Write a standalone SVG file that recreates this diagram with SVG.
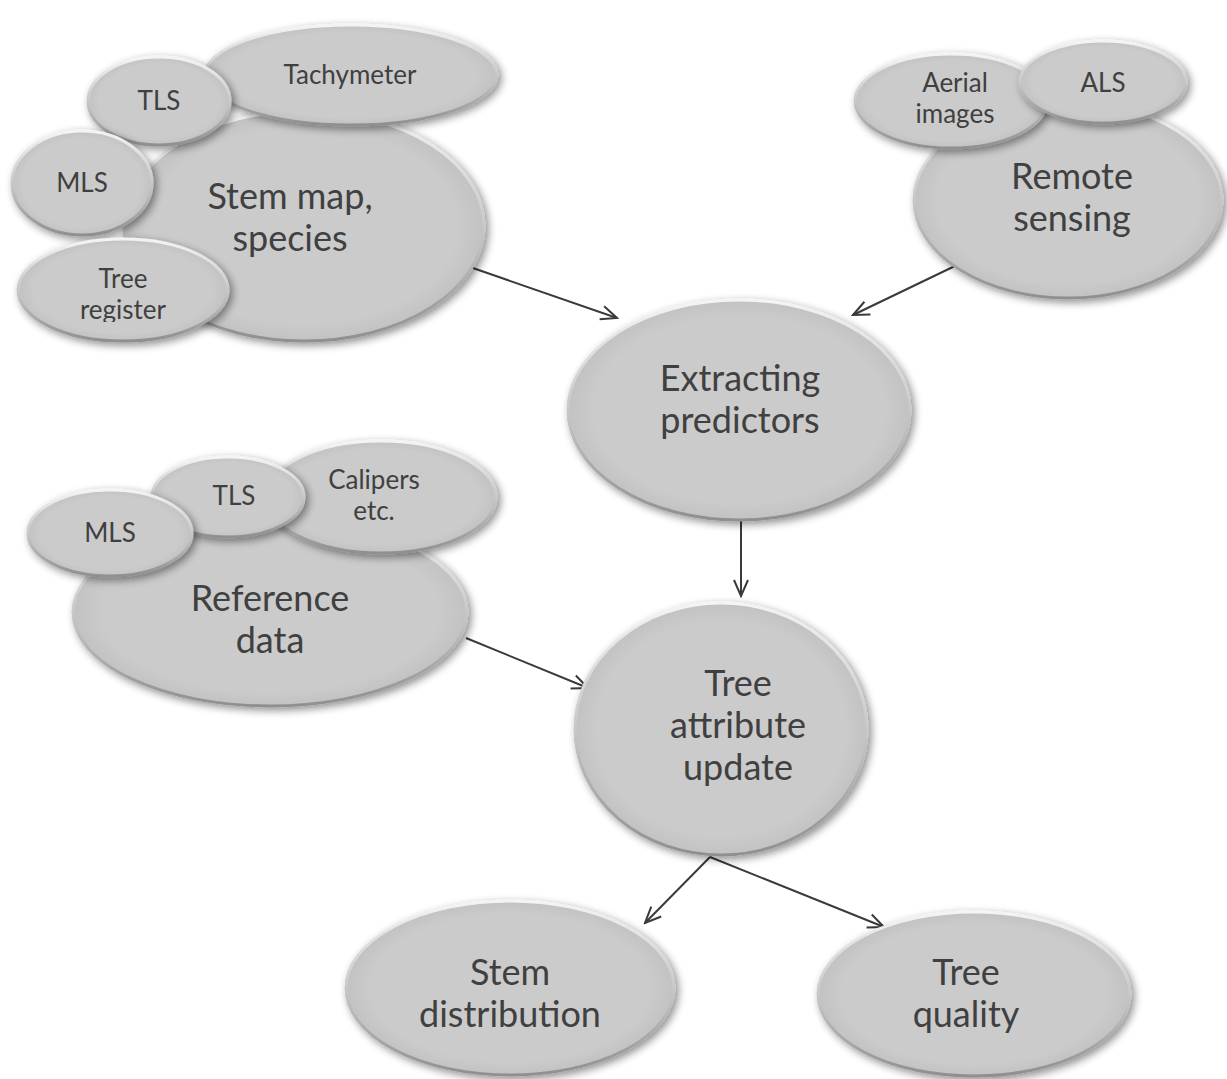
<svg xmlns="http://www.w3.org/2000/svg" width="1227" height="1079" viewBox="0 0 1227 1079">
<defs>
<radialGradient id="fillG" cx="0.5" cy="0.5" r="0.5">
<stop offset="0.85" stop-color="#cbcbcb"/>
<stop offset="1" stop-color="#c2c2c2"/>
</radialGradient>
<linearGradient id="rimG" x1="0" y1="0" x2="0" y2="1">
<stop offset="0" stop-color="#f4f4f4"/>
<stop offset="0.5" stop-color="#c8c8c8"/>
<stop offset="1" stop-color="#8f8f8f"/>
</linearGradient>
<filter id="sh" x="-20%" y="-20%" width="140%" height="140%">
<feGaussianBlur in="SourceAlpha" stdDeviation="4"/>
<feOffset dx="3" dy="3" result="b"/>
<feComponentTransfer><feFuncA type="linear" slope="0.45"/></feComponentTransfer>
<feMerge><feMergeNode/><feMergeNode in="SourceGraphic"/></feMerge>
</filter>
<marker id="arr" viewBox="0 0 20 20" refX="18" refY="10" markerWidth="20" markerHeight="20" markerUnits="userSpaceOnUse" orient="auto">
<path d="M2,3 L18,10 L2,17" fill="none" stroke="#3a3a3a" stroke-width="2"/>
</marker>
<clipPath id="trClip"><rect x="0" y="240" width="240" height="82"/></clipPath>
</defs>
<style>
.n ellipse{fill:url(#fillG);stroke:url(#rimG);stroke-width:3;filter:url(#sh)}
text{font-family:Lato,"Open Sans","Liberation Sans",sans-serif;fill:#404040;text-anchor:middle}
.s{font-size:26px}
.b{font-size:36px}
.e{stroke:#3a3a3a;stroke-width:2;fill:none;marker-end:url(#arr)}
</style>
<rect width="1227" height="1079" fill="#ffffff"/>

<g id="connectors">
<line class="e" x1="470" y1="267" x2="617" y2="318"/>
<line class="e" x1="957" y1="265" x2="853" y2="315"/>
<line class="e" x1="741" y1="521" x2="741" y2="596"/>
<line class="e" x1="466" y1="638" x2="588" y2="688"/>
<line class="e" x1="710" y1="857" x2="645" y2="923"/>
<line class="e" x1="710" y1="857" x2="884" y2="927"/>
</g>

<g id="stem-map" class="n"><ellipse cx="304" cy="226" rx="180" ry="115"/><text class="b" x="290" y="209">Stem map,</text><text class="b" x="290" y="251">species</text></g>
<g id="tachymeter" class="n"><ellipse cx="351" cy="75" rx="146" ry="50"/><text class="s" x="350" y="84">Tachymeter</text></g>
<g id="tls-1" class="n"><ellipse cx="159" cy="101" rx="71" ry="44"/><text class="s" x="159" y="110">TLS</text></g>
<g id="mls-1" class="n"><ellipse cx="82" cy="183" rx="70" ry="52"/><text class="s" x="82" y="192">MLS</text></g>
<g id="tree-register" class="n"><ellipse cx="123" cy="290" rx="105" ry="51"/><g clip-path="url(#trClip)"><text class="s" x="123" y="288">Tree</text><text class="s" x="123" y="319">register</text></g></g>

<g id="remote-sensing" class="n"><ellipse cx="1068" cy="200" rx="154" ry="98"/><text class="b" x="1072" y="189">Remote</text><text class="b" x="1072" y="231">sensing</text></g>
<g id="aerial-images" class="n"><ellipse cx="951" cy="101" rx="96" ry="47"/><text class="s" x="955" y="92">Aerial</text><text class="s" x="955" y="123">images</text></g>
<g id="als" class="n"><ellipse cx="1103" cy="82" rx="83" ry="41"/><text class="s" x="1103" y="92">ALS</text></g>

<g id="extracting-predictors" class="n"><ellipse cx="739" cy="410" rx="171" ry="110"/><text class="b" x="740" y="391">Extracting</text><text class="b" x="740" y="433">predictors</text></g>

<g id="reference-data" class="n"><ellipse cx="270" cy="612" rx="197" ry="94"/><text class="b" x="270" y="611">Reference</text><text class="b" x="270" y="653">data</text></g>
<g id="calipers" class="n"><ellipse cx="381" cy="497" rx="115" ry="56"/><text class="s" x="374" y="489">Calipers</text><text class="s" x="374" y="520">etc.</text></g>
<g id="tls-2" class="n"><ellipse cx="228" cy="497" rx="76" ry="40"/><text class="s" x="234" y="505">TLS</text></g>
<g id="mls-2" class="n"><ellipse cx="110" cy="533" rx="82" ry="43"/><text class="s" x="110" y="542">MLS</text></g>

<g id="tree-attribute-update" class="n"><ellipse cx="721" cy="729" rx="146" ry="126"/><text class="b" x="738" y="696">Tree</text><text class="b" x="738" y="738">attribute</text><text class="b" x="738" y="780">update</text></g>

<g id="stem-distribution" class="n"><ellipse cx="510" cy="988" rx="164" ry="87"/><text class="b" x="510" y="985">Stem</text><text class="b" x="510" y="1027">distribution</text></g>
<g id="tree-quality" class="n"><ellipse cx="974" cy="994" rx="156" ry="82"/><text class="b" x="966" y="985">Tree</text><text class="b" x="966" y="1027">quality</text></g>
</svg>
